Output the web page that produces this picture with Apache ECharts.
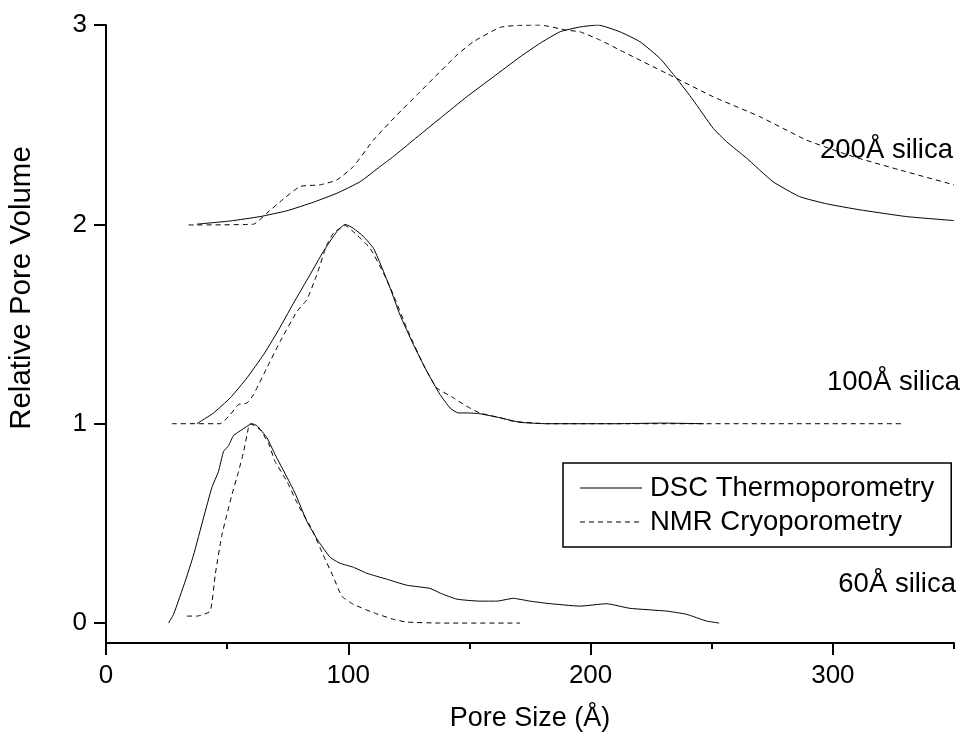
<!DOCTYPE html>
<html>
<head>
<meta charset="utf-8">
<script src="https://cdn.jsdelivr.net/npm/echarts@6/dist/echarts.min.js"></script>
<style>html,body{margin:0;padding:0;background:#fff;}#c{width:965px;height:738px;}</style>
</head>
<body>
<div id="c"></div>
<script>
// ---- data ----
const seriesNames = ['DSC Thermoporometry', 'NMR Cryoporometry'];
const xMajorTicks = [0, 100, 200, 300];
const xMinorTicks = [50, 150, 250, 350];
const yTicks = [0, 1, 2, 3];
const sampleLabels = ['200Å silica', '100Å silica', '60Å silica'];

const dsc60 = [[25.8,0],[27.9,0.044],[32.7,0.21],[36.1,0.34],[40.3,0.53],[43.7,0.68],[46.4,0.76],[48.5,0.86],[50.6,0.89],[52.6,0.94],[56.1,0.97],[60.2,1.0],[62.3,0.99],[66.4,0.93],[69.8,0.845],[73.9,0.75],[78.1,0.65],[82.9,0.51],[87.7,0.41],[92.5,0.33],[96.6,0.30],[102.1,0.28],[107.6,0.25],[115.9,0.22],[124.1,0.19],[133.7,0.174],[138,0.15],[144.8,0.12],[154.3,0.11],[161.3,0.11],[168.1,0.124],[175,0.11],[182,0.099],[195.6,0.085],[206.6,0.097],[216.2,0.074],[231.4,0.06],[239.6,0.044],[247.9,0.01],[253.1,0]];
const nmr60 = [[33.4,0.035],[37.5,0.035],[43,0.06],[45.1,0.244],[47.8,0.44],[49.9,0.545],[52,0.645],[54.7,0.76],[56.8,0.86],[58.8,0.98],[59.5,1.0],[63.6,0.97],[67.1,0.90],[69.8,0.81],[74.7,0.71],[79.4,0.59],[85,0.47],[89.7,0.34],[93.9,0.23],[97.3,0.135],[102.1,0.094],[110.4,0.052],[118.6,0.019],[124.1,0.005],[138,0],[170.9,0]];
const dsc100 = [[37.5,1.0],[44.4,1.054],[51.3,1.13],[58.2,1.23],[65,1.346],[70.5,1.455],[77.4,1.605],[84.2,1.747],[89.7,1.864],[95.3,1.964],[98.7,2.0],[102.1,1.98],[106.2,1.94],[110.4,1.88],[113.1,1.806],[117.3,1.68],[121.3,1.547],[126.9,1.396],[132.4,1.263],[137.9,1.146],[142,1.079],[145.4,1.054],[148.9,1.054],[154.3,1.05],[162.6,1.03],[170.9,1.007],[181.9,1.0],[210,1.0],[230,1.003],[246.8,1.0]];
const nmr100 = [[27.2,1.0],[47.1,1.0],[51.3,1.046],[54.7,1.096],[58.2,1.104],[60.9,1.146],[66.4,1.28],[71.9,1.413],[78.8,1.563],[82.9,1.622],[87,1.747],[91.1,1.897],[93.9,1.956],[98.7,1.994],[103.5,1.947],[109,1.88],[114.5,1.756],[118.6,1.647],[124.1,1.48],[131,1.296],[136.5,1.18],[143.4,1.13],[148.5,1.09],[154.3,1.054],[162.6,1.03],[168.1,1.012],[181.9,1.0],[329,1.0]];
const dsc200 = [[37.5,2.001],[51.3,2.017],[63.6,2.039],[74.6,2.068],[85.6,2.111],[95.3,2.156],[104.9,2.214],[113.1,2.29],[118.6,2.34],[126.9,2.423],[137.9,2.532],[148.9,2.64],[159.9,2.74],[170.9,2.84],[179.1,2.908],[187.4,2.966],[195.6,2.99],[203,3.0],[212.1,2.966],[220.4,2.916],[228.6,2.833],[235.5,2.732],[242.3,2.624],[250.6,2.482],[256.1,2.415],[264.4,2.332],[275.3,2.214],[286.3,2.139],[297.4,2.103],[311.1,2.073],[330.4,2.039],[350,2.019]];
const nmr200 = [[34.1,1.997],[60.9,2.001],[66.4,2.056],[71.9,2.114],[80.1,2.19],[88.3,2.198],[95.3,2.223],[102.1,2.29],[110.4,2.423],[120,2.548],[128.3,2.649],[136.5,2.749],[144.8,2.849],[151.6,2.916],[162.6,2.988],[170,2.998],[179.1,3.0],[190.1,2.974],[195.6,2.966],[204,2.924],[212.1,2.874],[231.4,2.757],[250.6,2.64],[269.9,2.54],[289.1,2.423],[308.3,2.34],[327.6,2.273],[350,2.198]];

// ---- chart ----
const FONT = '"Liberation Sans", Arial, Helvetica, sans-serif';
const chart = echarts.init(document.getElementById('c'), null, {renderer: 'canvas'});

// legend icons: thin solid / dashed strokes drawn as filled paths (62 x 14 box)
const EDGE = 'M0,0h0.001v0.001h-0.001z M0,14h0.001v0.001h-0.001z M62,0h0.001v0.001h-0.001z';
const ICON_SOLID = 'path://' + EDGE + ' M0,6.5h62v1h-62z';
let dashPath = '';
for (let i = 0; i < 62; i += 9) { dashPath += ' M' + i + ',6.5h' + Math.min(5, 62 - i) + 'v1h-' + Math.min(5, 62 - i) + 'z'; }
const ICON_DASH = 'path://' + EDGE + dashPath;

function mk(name, data, dashed) {
  return {
    name: name, type: 'line', data: data, symbol: 'none', showSymbol: false,
    smooth: 0.15, silent: true, animation: false, clip: true,
    lineStyle: {color: '#000', width: 1, type: dashed ? [5, 4] : 'solid'},
    itemStyle: {color: '#000'}
  };
}

const option = {
  backgroundColor: '#ffffff',
  animation: false,
  textStyle: {fontFamily: FONT, color: '#000'},
  grid: {left: 106, right: 11, top: 25, bottom: 95, containLabel: false},
  xAxis: [{
    type: 'value', min: 0, max: 350, position: 'bottom',
    axisLine: {show: true, onZero: false, lineStyle: {color: '#000', width: 2}},
    axisTick: {show: true, inside: false, length: 12, customValues: xMajorTicks, lineStyle: {color: '#000', width: 2}},
    axisLabel: {show: true, customValues: xMajorTicks, margin: 20, fontSize: 26, color: '#000', fontFamily: FONT},
    splitLine: {show: false},
    name: 'Pore Size (Å)', nameLocation: 'middle', nameGap: 62,
    nameTextStyle: {fontSize: 27, color: '#000', fontFamily: FONT}
  }, {
    type: 'value', min: 0, max: 350, position: 'bottom', gridIndex: 0,
    axisLine: {show: false, onZero: false},
    axisTick: {show: true, length: 6, customValues: xMinorTicks, lineStyle: {color: '#000', width: 2}},
    axisLabel: {show: false},
    splitLine: {show: false}
  }],
  yAxis: {
    type: 'value', min: -0.1, max: 3,
    axisLine: {show: true, onZero: false, lineStyle: {color: '#000', width: 2}},
    axisTick: {show: true, length: 12, customValues: yTicks, lineStyle: {color: '#000', width: 2}},
    axisLabel: {show: true, customValues: yTicks, margin: 19, fontSize: 26, color: '#000', fontFamily: FONT},
    splitLine: {show: false}
  },
  legend: {
    show: true, orient: 'vertical', left: 563, top: 463,
    data: [{name: seriesNames[0], icon: ICON_SOLID}, {name: seriesNames[1], icon: ICON_DASH}],
    backgroundColor: '#fff', borderColor: '#000', borderWidth: 1.5, borderRadius: 0,
    padding: [10, 17, 10, 17],
    itemWidth: 62, itemHeight: 14, itemGap: 4,
    itemStyle: {color: '#000', borderWidth: 0},
    selectedMode: false,
    textStyle: {fontSize: 27.5, color: '#000', fontFamily: FONT, lineHeight: 30, padding: [0, 0, 0, 3]}
  },
  graphic: [
    {type: 'text', right: 12, top: 136, style: {text: sampleLabels[0], font: '27.5px ' + FONT, fill: '#000'}},
    {type: 'text', right: 5, top: 368, style: {text: sampleLabels[1], font: '27.5px ' + FONT, fill: '#000'}},
    {type: 'text', right: 9, top: 570, style: {text: sampleLabels[2], font: '27.5px ' + FONT, fill: '#000'}},
    {type: 'text', x: 7, y: 288, rotation: Math.PI / 2,
     style: {text: 'Relative Pore Volume', font: '29.5px ' + FONT, fill: '#000', textAlign: 'center', textVerticalAlign: 'top'}}
  ],
  series: [
    mk(seriesNames[0], dsc60, false),
    mk(seriesNames[1], nmr60, true),
    mk(seriesNames[0], dsc100, false),
    mk(seriesNames[1], nmr100, true),
    mk(seriesNames[0], dsc200, false),
    mk(seriesNames[1], nmr200, true)
  ]
};
chart.setOption(option);
</script>
</body>
</html>
